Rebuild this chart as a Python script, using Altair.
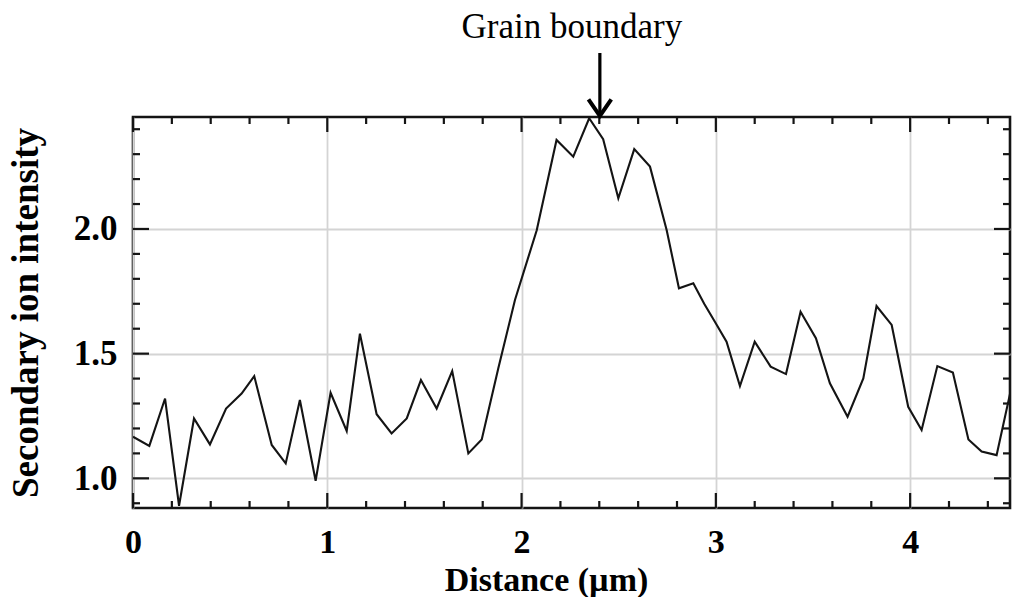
import altair as alt
import pandas as pd

# Profile data
distance = [0.0, 0.084, 0.165, 0.237, 0.314, 0.396, 0.479, 0.559, 0.624, 0.714,
            0.786, 0.859, 0.940, 1.017, 1.10, 1.168, 1.254, 1.331, 1.409, 1.482,
            1.563, 1.643, 1.726, 1.795, 1.88, 1.966, 2.078, 2.18, 2.266, 2.348,
            2.42, 2.498, 2.58, 2.661, 2.747, 2.81, 2.884, 2.94, 2.995, 3.055,
            3.124, 3.20, 3.282, 3.361, 3.436, 3.515, 3.587, 3.678, 3.759, 3.827,
            3.905, 3.99, 4.059, 4.14, 4.22, 4.30, 4.368, 4.445, 4.52]
intensity = [1.167, 1.13, 1.32, 0.89, 1.24, 1.136, 1.28, 1.34, 1.41, 1.134,
             1.06, 1.314, 0.99, 1.343, 1.19, 1.58, 1.257, 1.18, 1.24, 1.394,
             1.28, 1.43, 1.10, 1.156, 1.44, 1.715, 1.995, 2.357, 2.29, 2.444,
             2.36, 2.123, 2.32, 2.25, 1.995, 1.762, 1.782, 1.70, 1.628, 1.548,
             1.37, 1.548, 1.448, 1.418, 1.668, 1.562, 1.381, 1.247, 1.401, 1.691,
             1.615, 1.287, 1.194, 1.45, 1.424, 1.156, 1.107, 1.093, 1.36]

x_major = [0, 1, 2, 3, 4]
x_minor = [0.2, 0.4, 0.6, 0.8, 1.2, 1.4, 1.6, 1.8, 2.2, 2.4, 2.6, 2.8,
           3.2, 3.4, 3.6, 3.8, 4.2, 4.4]
y_major = [1.0, 1.5, 2.0]
y_minor = [0.9, 1.1, 1.2, 1.3, 1.4, 1.6, 1.7, 1.8, 1.9, 2.1, 2.2, 2.3, 2.4]

arrow_x = [2.403]
annotation = ["Grain boundary"]

X_DOMAIN = [0, 4.514]
Y_DOMAIN = [0.881, 2.449]
W, H = 877, 391
FONT = "Liberation Serif"
INK = "#141414"

xs = alt.Scale(domain=X_DOMAIN, nice=False, zero=False)
ys = alt.Scale(domain=Y_DOMAIN, nice=False, zero=False)

x_axis = alt.Axis(values=x_major, grid=True, gridColor="#d4d4d4", gridWidth=1.8,
                  ticks=False, tickSize=0, domain=False, format="d",
                  labelFont=FONT, labelFontWeight="bold", labelFontSize=34,
                  labelColor="black", labelPadding=17, labelFlush=False,
                  title="Distance (µm)", titleFont=FONT, titleFontWeight="bold",
                  titleFontSize=34, titleColor="black", titleX=413, titleY=82,
                  titleAlign="center", titleBaseline="alphabetic")
y_axis = alt.Axis(values=y_major, grid=True, gridColor="#d4d4d4", gridWidth=1.8,
                  ticks=False, tickSize=0, domain=False, format=".1f",
                  labelFont=FONT, labelFontWeight="bold", labelFontSize=35,
                  labelColor="black", labelPadding=16, labelFlush=False,
                  title="Secondary ion intensity", titleFont=FONT,
                  titleFontWeight="bold", titleFontSize=37, titleColor="black",
                  titleAngle=270, titleX=-96, titleY=195.5,
                  titleAlign="center", titleBaseline="alphabetic")

df = pd.DataFrame({"d": distance, "v": intensity})

line = alt.Chart(df).mark_line(color=INK, strokeWidth=2.1, clip=True).encode(
    x=alt.X("d:Q", scale=xs, axis=x_axis),
    y=alt.Y("v:Q", scale=ys, axis=y_axis),
)

def xticks(vals, length):
    d = pd.DataFrame({"t": vals})
    bottom = alt.Chart(d).mark_rule(color=INK, strokeWidth=2.2).encode(
        x=alt.X("t:Q", scale=xs, axis=x_axis),
        y=alt.value(H), y2=alt.value(H - length))
    top = alt.Chart(d).mark_rule(color=INK, strokeWidth=2.2).encode(
        x=alt.X("t:Q", scale=xs, axis=x_axis),
        y=alt.value(0), y2=alt.value(length))
    return [bottom, top]

def yticks(vals, length):
    d = pd.DataFrame({"t": vals})
    left = alt.Chart(d).mark_rule(color=INK, strokeWidth=2.2).encode(
        y=alt.Y("t:Q", scale=ys, axis=y_axis),
        x=alt.value(0), x2=alt.value(length))
    right = alt.Chart(d).mark_rule(color=INK, strokeWidth=2.2).encode(
        y=alt.Y("t:Q", scale=ys, axis=y_axis),
        x=alt.value(W), x2=alt.value(W - length))
    return [left, right]

adf = pd.DataFrame({"x": arrow_x, "label": annotation})
shaft = alt.Chart(adf).mark_rule(color="black", strokeWidth=3.2, clip=False).encode(
    x=alt.X("x:Q", scale=xs, axis=x_axis), y=alt.value(-64), y2=alt.value(-1))
head = alt.Chart(adf).mark_point(
    shape="M-1,-0.75L0,0.7L1,-0.75", size=520, filled=False, color="black",
    strokeWidth=4, opacity=1, clip=False).encode(
    x=alt.X("x:Q", scale=xs, axis=x_axis), y=alt.value(-9))
label = alt.Chart(adf).mark_text(
    font=FONT, fontSize=35, color="black", baseline="alphabetic", align="center",
    dx=-28, clip=False).encode(
    x=alt.X("x:Q", scale=xs, axis=x_axis), y=alt.value(-79), text="label:N")

layers = [line] + xticks(x_major, 15) + xticks(x_minor, 7) + \
    yticks(y_major, 16) + yticks(y_minor, 7) + [shaft, head, label]

chart = alt.layer(*layers).properties(
    width=W, height=H, autosize="none",
    padding={"left": 133, "top": 117, "right": 2, "bottom": 89},
    background="white",
).configure_view(stroke=INK, strokeWidth=2.6)

chart.save("out.html", embed_options={"renderer": "svg", "actions": False})
